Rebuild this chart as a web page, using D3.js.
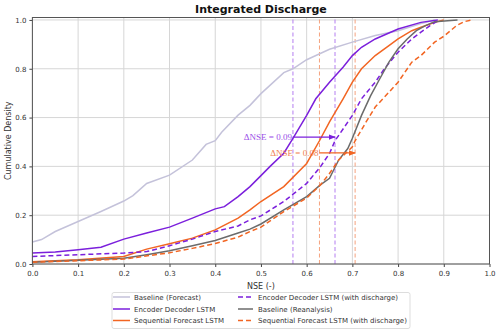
<!DOCTYPE html>
<html><head><meta charset="utf-8">
<script src="https://cdn.jsdelivr.net/npm/d3@7"></script>
<style>body{margin:0;background:#fff;}svg{display:block;font-family:"DejaVu Sans",sans-serif;}</style>
</head><body>
<svg id="c" width="500" height="333"></svg>
<script>
// ---- data (NSE, cumulative density) ----
const baselineForecast = [[0,0.09],[0.02,0.1],[0.05,0.133],[0.1,0.174],[0.15,0.215],[0.2,0.258],[0.22,0.28],[0.25,0.33],[0.3,0.364],[0.35,0.426],[0.38,0.49],[0.4,0.505],[0.414,0.54],[0.45,0.61],[0.476,0.65],[0.5,0.698],[0.55,0.784],[0.57,0.80],[0.6,0.837],[0.65,0.88],[0.7,0.909],[0.75,0.936],[0.8,0.956],[0.85,0.985],[0.88,1.0]];
const encoderDecoder = [[0,0.045],[0.05,0.049],[0.1,0.058],[0.15,0.069],[0.2,0.102],[0.25,0.127],[0.3,0.151],[0.35,0.188],[0.4,0.226],[0.42,0.235],[0.45,0.276],[0.476,0.317],[0.5,0.362],[0.52,0.40],[0.55,0.454],[0.57,0.515],[0.6,0.609],[0.62,0.677],[0.65,0.745],[0.68,0.807],[0.7,0.854],[0.72,0.888],[0.75,0.922],[0.8,0.963],[0.85,0.99],[0.887,1.0]];
const sequentialForecast = [[0,0.009],[0.1,0.017],[0.2,0.031],[0.25,0.061],[0.3,0.083],[0.35,0.106],[0.4,0.14],[0.45,0.188],[0.476,0.222],[0.5,0.256],[0.55,0.317],[0.6,0.412],[0.628,0.505],[0.65,0.582],[0.68,0.678],[0.7,0.745],[0.72,0.80],[0.75,0.854],[0.78,0.895],[0.8,0.922],[0.83,0.956],[0.85,0.97],[0.88,0.99],[0.9,1.0]];
const encoderDecoderQ = [[0,0.031],[0.1,0.038],[0.2,0.045],[0.25,0.051],[0.3,0.075],[0.35,0.102],[0.4,0.133],[0.45,0.156],[0.476,0.181],[0.5,0.197],[0.55,0.256],[0.6,0.33],[0.63,0.398],[0.65,0.453],[0.662,0.505],[0.7,0.609],[0.72,0.677],[0.75,0.745],[0.77,0.80],[0.8,0.868],[0.83,0.922],[0.85,0.95],[0.87,0.977],[0.89,1.0]];
const baselineReanalysis = [[0,0.007],[0.1,0.015],[0.2,0.024],[0.25,0.038],[0.3,0.054],[0.35,0.075],[0.4,0.096],[0.45,0.127],[0.476,0.143],[0.5,0.164],[0.55,0.222],[0.6,0.276],[0.63,0.324],[0.65,0.351],[0.67,0.426],[0.69,0.473],[0.7,0.515],[0.72,0.609],[0.74,0.69],[0.76,0.759],[0.78,0.827],[0.8,0.882],[0.82,0.922],[0.84,0.956],[0.86,0.977],[0.88,0.993],[0.93,1.0]];
const sequentialForecastQ = [[0,0.007],[0.2,0.02],[0.3,0.046],[0.35,0.064],[0.4,0.084],[0.45,0.11],[0.476,0.133],[0.5,0.151],[0.55,0.215],[0.6,0.27],[0.63,0.324],[0.65,0.371],[0.67,0.426],[0.7,0.48],[0.706,0.505],[0.73,0.582],[0.75,0.643],[0.78,0.704],[0.8,0.745],[0.83,0.827],[0.85,0.854],[0.88,0.909],[0.9,0.933],[0.928,0.977],[0.945,0.993],[0.961,1.0]];
const medianLines = [{v:0.57,group:"ed"},{v:0.662,group:"ed"},{v:0.628,group:"sf"},{v:0.706,group:"sf"}];
const deltas = [{from:0.57,to:0.662,y:0.52,label:"ΔNSE = 0.09",group:"ed"},{from:0.628,to:0.706,y:0.455,label:"ΔNSE = 0.08",group:"sf"}];
const xTicks = [0,0.1,0.2,0.3,0.4,0.5,0.6,0.7,0.8,0.9,1.0];
const yTicks = [0,0.2,0.4,0.6,0.8,1.0];

const series = [
  {name:"Baseline (Forecast)", data:baselineForecast, color:"#c4c2da", dash:null},
  {name:"Encoder Decoder LSTM", data:encoderDecoder, color:"#7b1fdc", dash:null},
  {name:"Sequential Forecast LSTM", data:sequentialForecast, color:"#f26522", dash:null},
  {name:"Encoder Decoder LSTM (with discharge)", data:encoderDecoderQ, color:"#7b1fdc", dash:"5,3"},
  {name:"Baseline (Reanalysis)", data:baselineReanalysis, color:"#6b6b6b", dash:null},
  {name:"Sequential Forecast LSTM (with discharge)", data:sequentialForecastQ, color:"#f26522", dash:"5,3"}
];
const groupColor = {ed:"#7b1fdc", sf:"#f26522"};
const groupLight = {ed:"#b47ef0", sf:"#f5a27e"};
const groupText = {ed:"#9a4ee8", sf:"#f08050"};

const svg = d3.select("#c");
const m = {l:32.4, r:10.5, t:17.5, b:69};
const W = 500, H = 333;
const x = d3.scaleLinear().domain([0,1]).range([m.l, W-m.r]);
const y = d3.scaleLinear().domain([0,1.01]).range([H-m.b, m.t]);

// grid
svg.append("g").selectAll("line").data(xTicks).join("line")
  .attr("x1",d=>x(d)).attr("x2",d=>x(d)).attr("y1",y(0)).attr("y2",y(1.01))
  .attr("stroke","#d6d6d6").attr("stroke-width",1);
svg.append("g").selectAll("line").data(yTicks).join("line")
  .attr("y1",d=>y(d)).attr("y2",d=>y(d)).attr("x1",x(0)).attr("x2",x(1))
  .attr("stroke","#d6d6d6").attr("stroke-width",1);

// median lines
svg.append("g").selectAll("line").data(medianLines).join("line")
  .attr("x1",d=>x(d.v)).attr("x2",d=>x(d.v)).attr("y1",y(0)).attr("y2",y(1.01))
  .attr("stroke",d=>groupLight[d.group]).attr("stroke-width",1).attr("stroke-dasharray","4,2.5");

// curves
const lineL = d3.line().x(d=>x(d[0])).y(d=>y(d[1]));
svg.append("g").selectAll("path").data(series).join("path")
  .attr("d",d=>lineL(d.data)).attr("fill","none")
  .attr("stroke",d=>d.color).attr("stroke-width",1.5)
  .attr("stroke-dasharray",d=>d.dash);

// arrows
const defs = svg.append("defs");
Object.keys(groupColor).forEach(g=>{
  defs.append("marker").attr("id","arr-"+g).attr("viewBox","0 0 10 10").attr("refX",9).attr("refY",5)
    .attr("markerWidth",6).attr("markerHeight",6).attr("orient","auto")
    .append("path").attr("d","M0,1 L10,5 L0,9 z").attr("fill",groupColor[g]);
});
const ag = svg.append("g");
ag.selectAll("line").data(deltas).join("line")
  .attr("x1",d=>x(d.from)).attr("x2",d=>x(d.to)).attr("y1",d=>y(d.y)).attr("y2",d=>y(d.y))
  .attr("stroke",d=>groupColor[d.group]).attr("stroke-width",1.2)
  .attr("marker-end",d=>"url(#arr-"+d.group+")");
ag.selectAll("text").data(deltas).join("text")
  .attr("x",d=>x(d.from)-1).attr("y",d=>y(d.y)+3)
  .attr("text-anchor","end").attr("font-family","'Liberation Serif','DejaVu Serif',serif")
  .attr("font-size",9).attr("fill",d=>groupText[d.group])
  .text(d=>d.label);

// axes
const xa = svg.append("g").attr("transform",`translate(0,${y(0)})`)
  .call(d3.axisBottom(x).tickValues(xTicks).tickFormat(d3.format(".1f")).tickSize(3));
const ya = svg.append("g").attr("transform",`translate(${x(0)},0)`)
  .call(d3.axisLeft(y).tickValues(yTicks).tickFormat(d3.format(".1f")).tickSize(3));
[xa,ya].forEach(a=>{
  a.select(".domain").remove();
  a.selectAll("text").attr("font-size",7).attr("fill","#333").attr("font-family","'DejaVu Sans',sans-serif");
  a.selectAll("line").attr("stroke","#444");
});
xa.selectAll("text").attr("dy","0.9em");
// frame
svg.append("rect").attr("x",x(0)).attr("y",y(1.01)).attr("width",x(1)-x(0)).attr("height",y(0)-y(1.01))
  .attr("fill","none").attr("stroke","#555").attr("stroke-width",1);

// labels
svg.append("text").attr("x",(x(0)+x(1))/2).attr("y",13).attr("text-anchor","middle")
  .attr("font-size",11).attr("font-weight","bold").attr("fill","#111").text("Integrated Discharge");
svg.append("text").attr("transform",`translate(11,${(y(0)+y(1.01))/2}) rotate(-90)`).attr("text-anchor","middle")
  .attr("font-size",8).attr("fill","#333").text("Cumulative Density");
svg.append("text").attr("x",(x(0)+x(1))/2).attr("y",289).attr("text-anchor","middle")
  .attr("font-size",8).attr("fill","#333").text("NSE (-)");

// legend
const lg = svg.append("g");
lg.append("rect").attr("x",112).attr("y",292.5).attr("width",298).attr("height",36).attr("rx",2)
  .attr("fill","#fff").attr("stroke","#ddd");
const rowsY = [297,309,320.5];
const colX = [[113,130,134],[238,253,258]];
series.forEach((s,i)=>{
  const c = Math.floor(i/3), r = i%3;
  const it = lg.append("g");
  it.append("line").attr("x1",colX[c][0]).attr("x2",colX[c][1]).attr("y1",rowsY[r]).attr("y2",rowsY[r])
    .attr("stroke",s.color).attr("stroke-width",1.5).attr("stroke-dasharray",s.dash);
  it.append("text").attr("x",colX[c][2]).attr("y",rowsY[r]+2.5).attr("font-size",7).attr("fill","#333").text(s.name);
});
</script>
</body></html>
